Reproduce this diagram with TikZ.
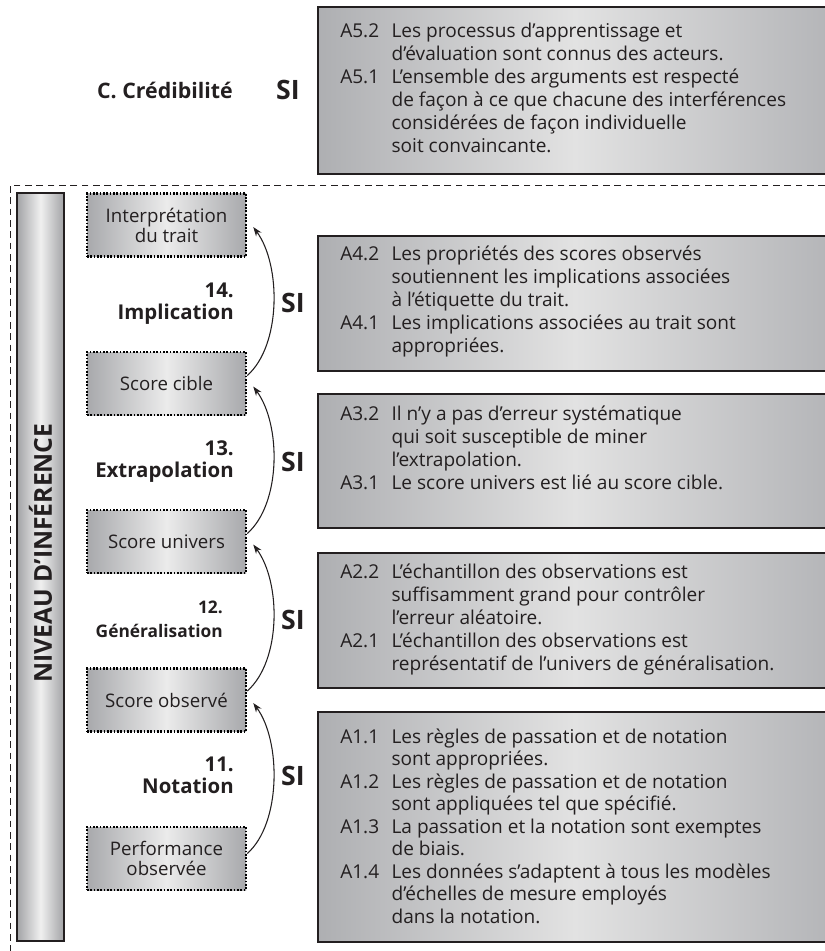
\documentclass[tikz,border=0pt]{standalone}
\usepackage{fontspec}
\setmainfont{Open Sans}
\usetikzlibrary{calc,shadings,arrows.meta}
\definecolor{ink}{HTML}{231F20}
\definecolor{redge}{HTML}{AEAFB2}
\definecolor{redgeb}{HTML}{B4B5B8}
\definecolor{rmid}{HTML}{E2E2E2}
\definecolor{sedge}{HTML}{A8A9AC}
\definecolor{smid}{HTML}{EBEBEB}
\definecolor{bedge}{HTML}{A2A3A6}
\definecolor{bmid}{HTML}{F0F0F0}
\begin{document}
\begin{tikzpicture}[x=0.75pt,y=-0.75pt,
  rbox/.style={draw=ink,line width=0.9pt,left color=redge,right color=redgeb,middle color=rmid},
  sbox/.style={draw=black,line width=1.9pt,dash pattern=on 1.3pt off 1.2pt,left color=sedge,right color=sedge,middle color=smid,minimum width=119.25pt,minimum height=47.25pt,inner sep=0pt,align=center,text=ink,font=\fontsize{14}{15}\selectfont},
  argtxt/.style={anchor=north west,inner sep=0pt,text=ink,font=\fontsize{14.3}{17.25}\selectfont},
  steplbl/.style={anchor=east,align=right,inner sep=0pt,text=ink,font=\bfseries\fontsize{15.3}{16.5}\selectfont},
  silbl/.style={inner sep=0pt,text=ink,font=\bfseries\fontsize{20}{20}\selectfont},
  conn/.style={-{Stealth[length=7pt,width=5pt]},line width=0.8pt,draw=ink},
  framedash/.style={draw=ink,dash pattern=on 5pt off 3.5pt,line width=0.6pt}
]
\useasboundingbox (0,0) rectangle (825,951);
\clip (0,0) rectangle (825,951);
\fill[white] (0,0) rectangle (825,951);

% frame
\draw[framedash] (825,185) -- (10,185) -- (10,955);

% bar
\path[draw=ink,line width=0.9pt,left color=bedge,right color=bedge,middle color=bmid] (17,193) rectangle (64,941);
\node[rotate=90,inner sep=0pt,text=ink,font=\bfseries\fontsize{18.5}{18.5}\selectfont] (niveau) at (40.5,553) {NIVEAU D’INFÉRENCE};

% right boxes
\path[rbox] (318,7) rectangle (832,174);
\path[rbox] (318,236) rectangle (832,371);
\path[rbox] (318,394) rectangle (832,528);
\path[rbox] (318,553) rectangle (832,688);
\path[rbox] (318,712) rectangle (832,942);

\node[argtxt] (a5txt) at (340,21) {\begin{tabular}{@{}p{38.5pt}@{}l@{}}
A5.2 & Les processus d’apprentissage et\\
 & d’évaluation sont connus des acteurs.\\
A5.1 & L’ensemble des arguments est respecté\\
 & de façon à ce que chacune des interférences\\
 & considérées de façon individuelle\\
 & soit convaincante.
\end{tabular}};

\node[argtxt] (a4txt) at (340,244) {\begin{tabular}{@{}p{38.5pt}@{}l@{}}
A4.2 & Les propriétés des scores observés\\
 & soutiennent les implications associées\\
 & à l’étiquette du trait.\\
A4.1 & Les implications associées au trait sont\\
 & appropriées.
\end{tabular}};

\node[argtxt] (a3txt) at (340,404) {\begin{tabular}{@{}p{38.5pt}@{}l@{}}
A3.2 & Il n’y a pas d’erreur systématique\\
 & qui soit susceptible de miner\\
 & l’extrapolation.\\
A3.1 & Le score univers est lié au score cible.
\end{tabular}};

\node[argtxt] (a2txt) at (340,562) {\begin{tabular}{@{}p{38.5pt}@{}l@{}}
A2.2 & L’échantillon des observations est\\
 & suffisamment grand pour contrôler\\
 & l’erreur aléatoire.\\
A2.1 & L’échantillon des observations est\\
 & représentatif de l’univers de généralisation.
\end{tabular}};

\node[argtxt,font=\fontsize{14.3}{16.9}\selectfont] (a1txt) at (340,727) {\begin{tabular}{@{}p{38.5pt}@{}l@{}}
A1.1 & Les règles de passation et de notation\\
 & sont appropriées.\\
A1.2 & Les règles de passation et de notation\\
 & sont appliquées tel que spécifié.\\
A1.3 & La passation et la notation sont exemptes\\
 & de biais.\\
A1.4 & Les données s’adaptent à tous les modèles\\
 & d’échelles de mesure employés\\
 & dans la notation.
\end{tabular}};

% small boxes
\node[sbox] (interp) at (166.5,225) {Interprétation\\du trait};
\node[sbox] (cible) at (166.5,383.5) {Score cible};
\node[sbox] (univers) at (166.5,541.5) {Score univers};
\node[sbox] (observe) at (166.5,700) {Score observé};
\node[sbox] (perf) at (166.5,858.5) {Performance\\observée};

% connectors
\draw[conn] ($(cible.east)+(0,-8)$) .. controls +(34,-30) and +(28,38) .. ($(interp.east)+(6,2)$);
\draw[conn] ($(univers.east)+(0,-8)$) .. controls +(34,-30) and +(28,38) .. ($(cible.east)+(6,3)$);
\draw[conn] ($(observe.east)+(0,-9)$) .. controls +(34,-30) and +(28,38) .. ($(univers.east)+(6,3)$);
\draw[conn] ($(perf.east)+(0,-5)$) .. controls +(34,-30) and +(28,38) .. ($(observe.east)+(6,3)$);

% labels
\node[steplbl,font=\bfseries\fontsize{16}{16.5}\selectfont] (cred) at (233,90) {C. Crédibilité};
\node[steplbl] (impl) at (234,304) {14.\\Implication};
\node[steplbl] (extra) at (234,462) {13.\\Extrapolation};
\node[steplbl,font=\bfseries\fontsize{13}{18}\selectfont] (gene) at (223,619) {12.\\Généralisation};
\node[steplbl] (nota) at (234,775) {11.\\Notation};

\node[silbl] (si5) at (288,90) {SI};
\node[silbl] (si4) at (293,303) {SI};
\node[silbl] (si3) at (293,462) {SI};
\node[silbl] (si2) at (293,620) {SI};
\node[silbl] (si1) at (293,776) {SI};
\end{tikzpicture}
\end{document}
